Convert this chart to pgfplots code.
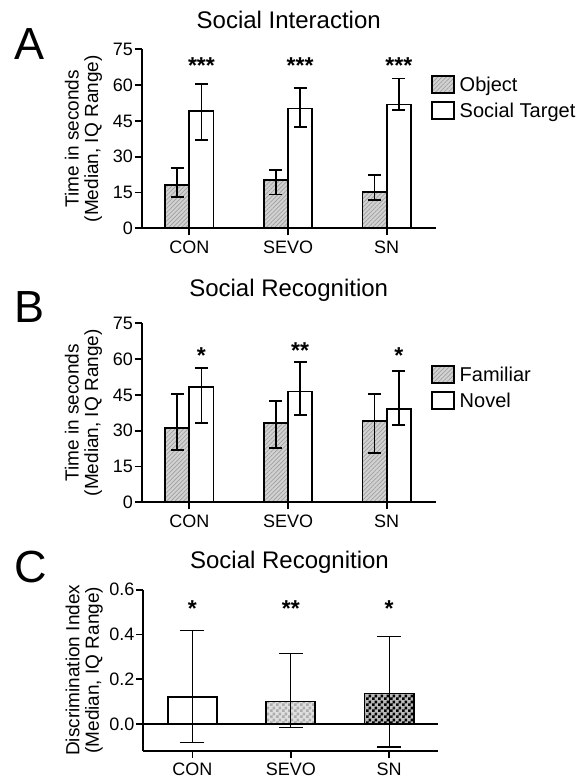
\documentclass[border=0pt]{standalone}
\usepackage{fontspec}
\setmainfont{Liberation Sans}
\usepackage{pgfplots}
\pgfplotsset{compat=1.18}
\usetikzlibrary{patterns,patterns.meta}

\pgfdeclarepatternformonly{checker}{\pgfpointorigin}{\pgfqpoint{6pt}{6pt}}{\pgfqpoint{6pt}{6pt}}{%
 \pgfpathrectangle{\pgfpointorigin}{\pgfqpoint{3pt}{3pt}}%
 \pgfpathrectangle{\pgfqpoint{3pt}{3pt}}{\pgfqpoint{3pt}{3pt}}%
 \pgfusepath{fill}}

\tikzset{stars/.style={font=\fontsize{23}{23}\bfseries\selectfont, anchor=base, yshift=-13pt, inner sep=0pt}}

\pgfplotsset{
  base/.style={
    scale only axis,
    axis lines=left, axis line style={-, line width=1.8pt},
    tick align=outside, major tick length=7pt,
    tick style={line width=1.8pt, black},
    ticklabel style={font=\fontsize{18}{20}\selectfont},
    xticklabel style={inner sep=0pt, yshift=-5pt},
    yticklabel style={inner sep=0pt, xshift=-1.6pt},
    /pgf/number format/assume math mode=true,
    xtick={0,1,2}, xticklabels={CON,SEVO,SN},
    ylabel style={align=center, font=\fontsize{19}{19.5}\selectfont, anchor=center},
    clip=false,
    legend cell align=left,
    legend image code/.code={\path[##1, line width=1.8pt] (0pt,-8.5pt) rectangle (22pt,8.5pt); \path (25pt,0pt);},
  },
  panelAB/.style={
    base, width=294pt, height=179pt,
    xmin=-0.482, xmax=2.496, ymin=0, ymax=75,
    ytick={0,15,30,45,60,75},
    ylabel={Time in seconds\\(Median, IQ Range)},
    ylabel style={at={(axis description cs:-0.198,0.5)}},
    legend style={draw=none, fill=none, inner sep=0pt, font=\fontsize{20}{22}\selectfont, row sep=6pt},
  },
  hatch/.style={ybar, bar width=0.246, bar shift=0pt, draw=black, line width=1.8pt,
    preaction={fill=gray!35},
    pattern={Lines[angle=45,distance=3pt,line width=0.7pt]}, pattern color=gray!75},
  open/.style={ybar, bar width=0.246, bar shift=0pt, draw=black, line width=1.8pt, fill=white},
  eb/.style={error bars/.cd, y dir=both, y explicit, error mark=|,
    error bar style={line width=1.8pt, black, solid},
    error mark options={mark size=6.5pt, line width=1.8pt, black, solid}},
  ebthin/.style={error bars/.cd, y dir=both, y explicit, error mark=|,
    error bar style={line width=1.2pt, black, solid},
    error mark options={mark size=12pt, line width=1.2pt, black, solid}},
}

\begin{document}
\begin{tikzpicture}
\path[use as bounding box] (0,0) rectangle (579pt,-778pt);

% ---------------- Panel A ----------------
\node[font=\fontsize{45}{45}\selectfont, anchor=base] at (30pt,-60pt) {A};
\node[font=\fontsize{24}{24}\selectfont, anchor=base] at (288.7pt,-28.5pt) {Social Interaction};
\begin{axis}[panelAB, at={(141.7pt,-228.3pt)}, anchor=south west,
  legend style={at={(axis description cs:0.983,0.86)}, anchor=north west}]
\addplot[hatch, eb] coordinates {
  (-0.123,18.1) += (0,7.0) -= (0,4.9)
  (0.877,20.2) += (0,4.3) -= (0,6.0)
  (1.877,15.3) += (0,7.0) -= (0,3.6)
};
\addlegendentry{Object}
\addplot[open, eb] coordinates {
  (0.123,49.1) += (0,11.4) -= (0,12.1)
  (1.123,50.2) += (0,8.7) -= (0,7.9)
  (2.123,51.9) += (0,10.9) -= (0,2.5)
};
\addlegendentry{Social Target}
\node[stars] at (axis cs:0.123,70.2) {***};
\node[stars] at (axis cs:1.123,70.2) {***};
\node[stars] at (axis cs:2.123,70.2) {***};
\end{axis}

% ---------------- Panel B ----------------
\node[font=\fontsize{45}{45}\selectfont, anchor=base] at (29.5pt,-322pt) {B};
\node[font=\fontsize{24}{24}\selectfont, anchor=base] at (288.7pt,-296pt) {Social Recognition};
\begin{axis}[panelAB, at={(141.7pt,-502.3pt)}, anchor=south west,
  legend style={at={(axis description cs:0.983,0.77)}, anchor=north west}]
\addplot[hatch, eb] coordinates {
  (-0.123,31.0) += (0,14.4) -= (0,9.1)
  (0.877,33.1) += (0,9.4) -= (0,10.5)
  (1.877,34.1) += (0,11.2) -= (0,13.6)
};
\addlegendentry{Familiar}
\addplot[open, eb] coordinates {
  (0.123,48.2) += (0,8.2) -= (0,15.0)
  (1.123,46.4) += (0,12.3) -= (0,9.7)
  (2.123,39.0) += (0,16.0) -= (0,6.7)
};
\addlegendentry{Novel}
\node[stars] at (axis cs:0.123,63.8) {*};
\node[stars] at (axis cs:1.123,65.5) {**};
\node[stars] at (axis cs:2.123,63.4) {*};
\end{axis}

% ---------------- Panel C ----------------
\node[font=\fontsize{45}{45}\selectfont, anchor=base] at (31pt,-582pt) {C};
\node[font=\fontsize{24}{24}\selectfont, anchor=base] at (289.5pt,-568.5pt) {Social Recognition};
\begin{axis}[base, at={(143.3pt,-750.7pt)}, anchor=south west,
  width=295pt, height=161pt,
  xmin=-0.5, xmax=2.5, ymin=-0.12, ymax=0.6,
  ytick={0,0.2,0.4,0.6},
  yticklabel style={/pgf/number format/.cd, fixed, fixed zerofill, precision=1},
  ylabel={Discrimination Index\\(Median, IQ Range)},
  ylabel style={at={(axis description cs:-0.2,0.5)}}]
\addplot[ybar, bar width=0.5, bar shift=0pt, draw=black, line width=1.8pt, fill=white, ebthin] coordinates {
  (0,0.121) += (0,0.298) -= (0,0.203)
};
\addplot[ybar, bar width=0.5, bar shift=0pt, draw=black, line width=1.8pt,
  preaction={fill=gray!25}, pattern=checker, pattern color=gray!65, ebthin] coordinates {
  (1,0.100) += (0,0.213) -= (0,0.115)
};
\addplot[ybar, bar width=0.5, bar shift=0pt, draw=black, line width=1.8pt,
  preaction={fill=gray!55}, pattern=checker, pattern color=black, ebthin] coordinates {
  (2,0.136) += (0,0.255) -= (0,0.239)
};
\addplot[black, line width=2pt, mark=none, forget plot] coordinates {(-0.5,0) (2.5,0)};
\node[stars] at (axis cs:0,0.54) {*};
\node[stars] at (axis cs:1,0.54) {**};
\node[stars] at (axis cs:2,0.54) {*};
\end{axis}
\end{tikzpicture}
\end{document}
